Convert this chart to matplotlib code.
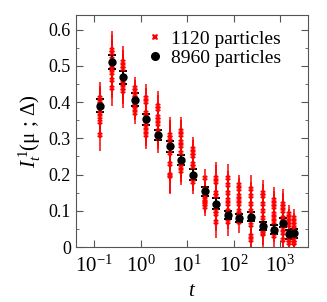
import matplotlib
matplotlib.use("Agg")
import matplotlib.pyplot as plt
from matplotlib.ticker import FixedLocator, MultipleLocator, LogLocator, FuncFormatter
import numpy as np

plt.rcParams.update({
    "font.family": "Liberation Serif",
    "mathtext.fontset": "custom",
    "mathtext.rm": "Liberation Serif",
    "mathtext.it": "Liberation Serif:italic",
    "font.size": 11,
})

# times (log-spaced)
times = [0.133, 0.237, 0.422, 0.75, 1.33, 2.37, 4.22, 7.5, 13.3, 23.7,
         42.2, 75, 133, 237, 422, 750, 1143, 1581, 2023]

# 8960 particles
big_vals = [0.39, 0.511, 0.469, 0.407, 0.352, 0.309, 0.278, 0.24, 0.200,
            0.154, 0.120, 0.088, 0.080, 0.084, 0.058, 0.048, 0.067, 0.035, 0.038]
big_err = [0.018, 0.02, 0.018, 0.018, 0.015, 0.015, 0.015, 0.015, 0.015,
           0.013, 0.015, 0.012, 0.012, 0.012, 0.012, 0.012, 0.012, 0.012, 0.012]

# 1120 particles (eight subsystems per time)
small_vals = [
    [0.40, 0.395, 0.385, 0.37, 0.36, 0.345, 0.31, 0.41],
    [0.545, 0.535, 0.52, 0.50, 0.49, 0.48, 0.46, 0.44],
    [0.51, 0.50, 0.49, 0.47, 0.46, 0.45, 0.44, 0.43],
    [0.44, 0.43, 0.42, 0.41, 0.40, 0.39, 0.38, 0.37],
    [0.41, 0.40, 0.37, 0.36, 0.34, 0.33, 0.32, 0.31],
    [0.39, 0.38, 0.36, 0.35, 0.34, 0.32, 0.31, 0.30],
    [0.31, 0.30, 0.29, 0.28, 0.26, 0.23, 0.20, 0.195],
    [0.32, 0.31, 0.29, 0.28, 0.26, 0.23, 0.22, 0.21],
    [0.27, 0.26, 0.25, 0.23, 0.22, 0.20, 0.19, 0.18],
    [0.19, 0.16, 0.155, 0.14, 0.13, 0.125, 0.12, 0.11],
    [0.19, 0.18, 0.15, 0.14, 0.12, 0.10, 0.09, 0.07],
    [0.19, 0.17, 0.15, 0.13, 0.12, 0.10, 0.09, 0.07],
    [0.17, 0.16, 0.14, 0.13, 0.12, 0.10, 0.09, 0.07],
    [0.16, 0.14, 0.12, 0.10, 0.08, 0.06, 0.03, 0.02],
    [0.15, 0.14, 0.12, 0.10, 0.08, 0.06, 0.04, 0.035],
    [0.13, 0.12, 0.11, 0.09, 0.08, 0.07, 0.05, 0.03],
    [0.12, 0.11, 0.10, 0.08, 0.07, 0.05, 0.04, 0.02],
    [0.09, 0.08, 0.07, 0.06, 0.04, 0.03, 0.02, 0.01],
    [0.08, 0.07, 0.06, 0.05, 0.03, 0.02, 0.01, 0.01],
]
small_err = [0.045, 0.05, 0.045, 0.03, 0.04, 0.04, 0.05, 0.04, 0.035, 0.025,
             0.045, 0.04, 0.03, 0.04, 0.035, 0.035, 0.04, 0.025, 0.025]

xtick_vals = [0.1, 1, 10, 100, 1000]
xtick_labels = ["$10^{-1}$", "$10^{0}$", "$10^{1}$", "$10^{2}$", "$10^{3}$"]

fig = plt.figure(figsize=(3.27, 3.02), dpi=100)
ax = fig.add_axes([0.2315, 0.182, 0.7105, 0.768])

for t, vals, e in zip(times, small_vals, small_err):
    ax.errorbar([t] * len(vals), vals, yerr=e, fmt="X", color="red",
                ms=4, mew=0, elinewidth=1.1, capsize=2.8, capthick=1.1)
ax.errorbar(times, big_vals, yerr=big_err, fmt="o", color="black",
            ms=5, elinewidth=1.4, capsize=2.8, capthick=1.4)

# legend handles
ax.plot([], [], "X", color="red", ms=5, mew=0, label="1120 particles")
ax.plot([], [], "o", color="black", ms=5.5, label="8960 particles")
handles, labels = ax.get_legend_handles_labels()
ax.legend(handles[-2:], labels[-2:], loc="upper right", frameon=False,
          bbox_to_anchor=(0.95, 1.0), handletextpad=0.3, borderpad=0.3,
          labelspacing=0.05, fontsize=14, handlelength=1.0)

ax.set_xscale("log")
ax.set_xlim(0.04, 4000)
ax.set_ylim(0, 0.64)
ax.yaxis.set_major_locator(FixedLocator([0, 0.1, 0.2, 0.3, 0.4, 0.5, 0.6]))
ax.yaxis.set_minor_locator(MultipleLocator(0.05))
ax.yaxis.set_major_formatter(FuncFormatter(lambda v, p: "0" if v == 0 else f"{v:.1f}"))
ax.set_xticks(xtick_vals)
ax.set_xticklabels(xtick_labels)
ax.xaxis.set_minor_locator(LogLocator(base=10, subs=np.arange(2, 10)))
ax.tick_params(axis="x", which="major", labelsize=15, pad=6)

for s in ax.spines.values():
    s.set_color("#555555")
ax.tick_params(which="both", direction="in", top=True, right=True, color="#555555")
ax.tick_params(which="major", length=5)
ax.tick_params(axis="y", which="major", labelsize=13)
ax.tick_params(which="minor", length=2.5)

ax.set_xlabel("$t$", fontsize=15)
ax.set_ylabel(r"$I_t^{\,1}$(μ ; Δ)", fontsize=15)

fig.savefig("out.png", dpi=100)
